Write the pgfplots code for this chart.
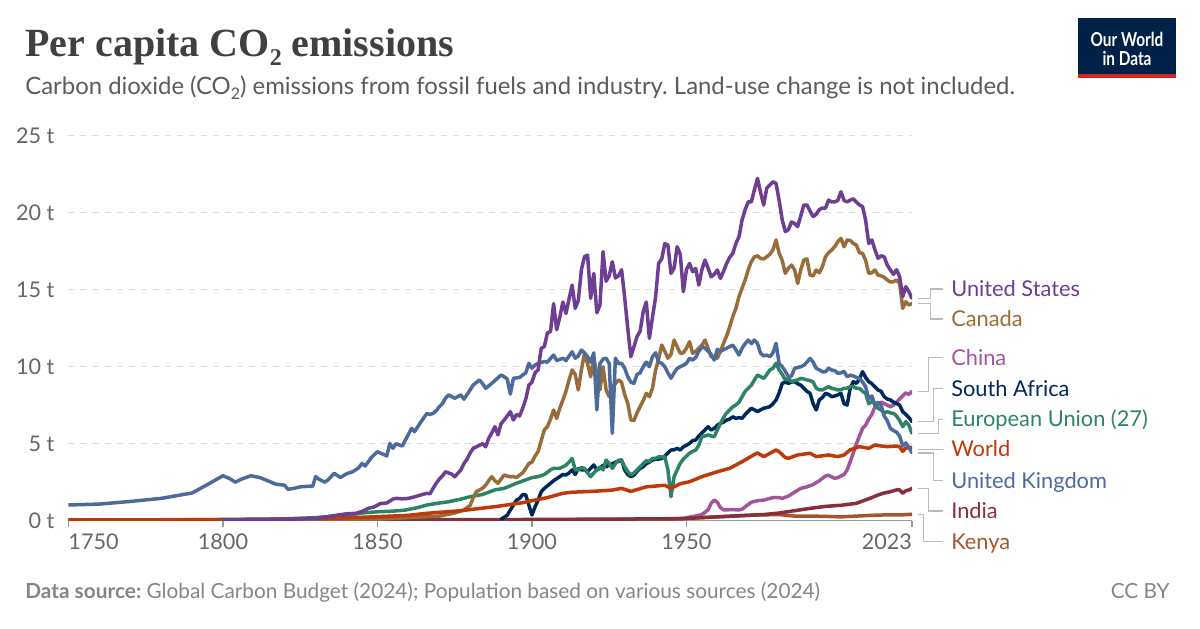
\documentclass[border=0pt]{standalone}
\usepackage{fontspec}
\setmainfont{Lato}
\newfontfamily\titlefont{Liberation Serif}
\usepackage{pgfplots}
\pgfplotsset{compat=1.18}
\definecolor{cUS}{HTML}{6D3E91}
\definecolor{cCA}{HTML}{996D39}
\definecolor{cCN}{HTML}{A2559C}
\definecolor{cZA}{HTML}{00295B}
\definecolor{cEU}{HTML}{2C8465}
\definecolor{cWO}{HTML}{BE3A0B}
\definecolor{cUK}{HTML}{4C6A9C}
\definecolor{cIN}{HTML}{883039}
\definecolor{cKE}{HTML}{A2552E}
\definecolor{cTitle}{HTML}{404040}
\definecolor{cSub}{HTML}{5B5B5B}
\definecolor{cTick}{HTML}{666666}
\definecolor{cGrid}{HTML}{DDDDDD}
\definecolor{cAxis}{HTML}{9A9A9A}
\definecolor{cFoot}{HTML}{858585}
\definecolor{cConn}{HTML}{BBBBBB}
\definecolor{cLogo}{HTML}{002147}
\definecolor{cLogoRed}{HTML}{CE261E}
\frenchspacing
\begin{document}
\begin{tikzpicture}
\useasboundingbox (0,0) rectangle (600pt,314pt);
% title and subtitle
\node[anchor=base west, inner sep=0, text=cTitle, font=\titlefont\bfseries\fontsize{20}{24}\selectfont] at (12.5pt,285.5pt) {Per capita CO\raisebox{-0.22em}{\fontsize{12}{12}\selectfont 2} emissions};
\node[anchor=base west, inner sep=0, text=cSub, font=\fontsize{11.95}{14}\selectfont] at (12.5pt,266.5pt) {Carbon dioxide (CO\raisebox{-0.2em}{\fontsize{8}{8}\selectfont 2}) emissions from fossil fuels and industry. Land-use change is not included.};
% logo
\fill[cLogo] (539pt,275pt) rectangle (588pt,305pt);
\fill[cLogoRed] (539pt,275pt) rectangle (588pt,277pt);
\node[text=white, font=\bfseries\fontsize{9.6}{10}\selectfont, inner sep=0] at (563.5pt,294.5pt) {\scalebox{0.8}[1]{Our World}};
\node[text=white, font=\bfseries\fontsize{9.6}{10}\selectfont, inner sep=0] at (563.5pt,284.8pt) {\scalebox{0.8}[1]{in Data}};
% footer
\node[anchor=base west, inner sep=0, text=cFoot, font=\fontsize{10.4}{12}\selectfont] at (12.5pt,15pt) {\textbf{Data source:} Global Carbon Budget (2024); Population based on various sources (2024)};
\node[anchor=base east, inner sep=0, text=cFoot, font=\fontsize{10.4}{12}\selectfont] at (585pt,15pt) {CC BY};
\begin{axis}[
  at={(34.25pt,53.65pt)}, anchor=south west,
  scale only axis, width=421.75pt, height=192.5pt,
  xmin=1750, xmax=2023, ymin=0, ymax=25,
  axis x line*=bottom, axis y line*=left,
  x axis line style={cAxis, line width=0.6pt},
  y axis line style={draw=none},
  xtick={1750,1800,1850,1900,1950,2023},
  xticklabels={\makebox[0pt][l]{1750},1800,1850,1900,1950,\makebox[0pt][r]{2023}},
  ytick={0,5,10,15,20,25},
  yticklabels={0 t,5 t,10 t,15 t,20 t,25 t},
  ymajorgrids,
  grid style={cGrid, dash pattern=on 3pt off 3pt, line width=0.6pt},
  tick label style={font=\fontsize{10.8}{12}\selectfont, text=cTick},
  xtick style={cAxis, line width=0.6pt},
  major tick length=3pt, tick align=outside,
  ytick style={draw=none},
  yticklabel style={xshift=-0.5pt},
  every axis plot/.append style={line width=1.75pt, line join=round, line cap=round},
]
% Kenya
\addplot[cKE] coordinates {(1900,0.02) (1920,0.05) (1950,0.15) (1960,0.25) (1970,0.35) (1975,0.38) (1980,0.40) (1985,0.30) (1990,0.30) (1995,0.28) (2000,0.25) (2005,0.30) (2010,0.35) (2015,0.38) (2020,0.38) (2023,0.42)};
% China
\addplot[cCN] coordinates {(1900,0.05) (1949,0.10) (1950,0.20) (1953,0.30) (1955,0.40) (1957,0.70) (1958,1.13) (1959,1.34) (1960,1.20) (1961,0.85) (1962,0.70) (1965,0.72) (1967,0.70) (1968,0.75) (1970,1.05) (1971,1.20) (1973,1.30) (1975,1.34) (1978,1.50) (1980,1.50) (1981,1.45) (1983,1.60) (1985,1.85) (1987,2.10) (1989,2.20) (1991,2.35) (1993,2.60) (1995,2.90) (1996,2.95) (1997,2.85) (1998,2.75) (1999,2.80) (2000,2.90) (2001,3.00) (2002,3.30) (2003,3.83) (2004,4.40) (2005,5.00) (2006,5.50) (2007,6.00) (2008,6.20) (2009,6.60) (2010,6.90) (2011,7.40) (2012,7.50) (2013,7.70) (2014,7.60) (2015,7.50) (2016,7.40) (2017,7.50) (2018,7.70) (2019,7.90) (2020,8.10) (2021,8.30) (2022,8.20) (2023,8.40)};
% India
\addplot[cIN] coordinates {(1850,0.05) (1900,0.08) (1920,0.10) (1945,0.12) (1950,0.15) (1960,0.25) (1970,0.35) (1975,0.40) (1980,0.50) (1985,0.65) (1990,0.80) (1995,0.93) (2000,1.00) (2005,1.13) (2008,1.35) (2010,1.50) (2012,1.67) (2014,1.80) (2016,1.88) (2018,2.00) (2019,2.00) (2020,1.78) (2021,1.95) (2022,2.00) (2023,2.10)};
% South Africa
\addplot[cZA] coordinates {(1890,0.10) (1892,0.35) (1893,0.70) (1895,1.34) (1896,1.45) (1897,1.70) (1898,1.67) (1899,1.00) (1900,0.37) (1901,0.90) (1902,1.34) (1903,1.88) (1904,2.10) (1906,2.43) (1907,2.60) (1909,2.86) (1910,3.00) (1911,2.97) (1912,3.10) (1913,3.30) (1914,3.00) (1915,3.40) (1916,3.30) (1917,3.30) (1918,3.20) (1919,3.40) (1920,3.62) (1921,3.30) (1922,3.40) (1923,3.60) (1924,3.50) (1925,3.62) (1926,3.70) (1927,3.80) (1928,3.85) (1929,3.94) (1930,3.30) (1931,3.00) (1932,2.86) (1933,2.95) (1934,3.20) (1935,3.40) (1936,3.50) (1937,3.70) (1938,3.80) (1939,3.94) (1940,4.00) (1941,4.00) (1942,4.05) (1943,4.20) (1944,4.40) (1945,4.59) (1946,4.60) (1947,4.70) (1948,4.59) (1949,4.80) (1950,4.90) (1951,5.02) (1952,5.20) (1953,5.24) (1954,5.50) (1955,5.70) (1956,5.89) (1957,6.10) (1958,5.89) (1959,6.00) (1960,6.20) (1961,6.32) (1962,6.40) (1963,6.54) (1964,6.60) (1965,6.75) (1966,6.64) (1967,6.70) (1968,6.64) (1969,6.90) (1970,7.10) (1971,7.30) (1972,7.20) (1973,7.08) (1974,7.20) (1975,7.30) (1976,7.35) (1977,7.41) (1978,7.60) (1979,7.84) (1980,8.30) (1981,8.92) (1982,9.00) (1983,8.92) (1984,9.00) (1985,9.03) (1986,8.90) (1987,8.80) (1988,8.60) (1989,8.40) (1990,8.27) (1991,7.60) (1992,7.19) (1993,7.84) (1994,8.00) (1995,8.27) (1996,8.20) (1997,8.05) (1998,8.10) (1999,8.17) (2000,8.27) (2001,7.60) (2002,7.51) (2003,8.60) (2004,9.03) (2005,8.92) (2006,9.20) (2007,9.68) (2008,9.30) (2009,9.03) (2010,8.90) (2011,8.70) (2012,8.49) (2013,8.40) (2014,8.05) (2015,7.90) (2016,7.84) (2017,7.70) (2018,7.62) (2019,7.50) (2020,7.08) (2021,6.90) (2022,6.70) (2023,6.43)};
% European Union (27)
\addplot[cEU] coordinates {(1750,0.03) (1780,0.05) (1800,0.08) (1820,0.12) (1830,0.20) (1840,0.35) (1845,0.50) (1850,0.58) (1855,0.62) (1859,0.69) (1863,0.85) (1866,1.02) (1870,1.15) (1873,1.23) (1877,1.40) (1880,1.56) (1884,1.70) (1888,2.00) (1891,2.10) (1895,2.43) (1898,2.65) (1900,2.80) (1902,2.86) (1904,3.00) (1906,3.30) (1907,3.40) (1909,3.40) (1911,3.60) (1912,3.80) (1913,4.05) (1914,3.30) (1915,3.30) (1916,3.45) (1917,3.40) (1918,3.10) (1919,2.86) (1920,3.10) (1921,3.30) (1922,3.50) (1923,3.30) (1924,3.94) (1925,3.70) (1926,3.40) (1927,3.70) (1928,3.94) (1929,3.90) (1930,3.51) (1931,3.20) (1932,2.97) (1933,3.10) (1934,3.30) (1935,3.50) (1936,3.70) (1937,3.90) (1938,3.84) (1939,4.05) (1940,4.05) (1941,4.15) (1942,4.15) (1943,4.15) (1944,3.30) (1945,1.56) (1946,2.86) (1947,3.30) (1948,3.73) (1949,4.00) (1950,4.20) (1951,4.38) (1952,4.50) (1953,4.59) (1954,4.90) (1955,5.46) (1956,5.50) (1957,5.57) (1958,5.50) (1959,5.46) (1960,5.90) (1961,6.32) (1962,6.70) (1963,7.00) (1964,7.19) (1965,7.40) (1966,7.51) (1967,7.70) (1968,8.05) (1969,8.40) (1970,8.60) (1971,8.80) (1972,9.14) (1973,9.46) (1974,9.35) (1975,9.24) (1976,9.50) (1977,9.79) (1978,9.90) (1979,10.22) (1980,9.79) (1981,9.50) (1982,9.14) (1983,9.24) (1984,9.03) (1985,9.10) (1986,9.14) (1987,9.24) (1988,9.20) (1989,9.14) (1990,9.10) (1991,9.00) (1992,8.60) (1993,8.50) (1994,8.49) (1995,8.60) (1996,8.70) (1997,8.60) (1998,8.55) (1999,8.49) (2000,8.50) (2001,8.60) (2002,8.60) (2003,8.70) (2004,8.70) (2005,8.60) (2006,8.60) (2007,8.40) (2008,8.27) (2009,7.60) (2010,7.73) (2011,7.60) (2012,7.30) (2013,7.19) (2014,7.00) (2015,7.08) (2016,7.00) (2017,6.97) (2018,6.80) (2019,6.50) (2020,6.10) (2021,6.43) (2022,6.20) (2023,5.67)};
% Canada
\addplot[cCA] coordinates {(1800,0.05) (1850,0.10) (1870,0.30) (1875,0.50) (1878,0.70) (1880,1.00) (1881,1.50) (1882,1.88) (1883,2.00) (1884,2.10) (1885,2.30) (1886,2.60) (1887,2.86) (1888,2.60) (1889,2.43) (1890,2.70) (1891,2.97) (1892,2.90) (1893,2.85) (1894,2.86) (1895,2.80) (1896,2.97) (1897,3.10) (1898,3.40) (1899,3.72) (1900,3.80) (1901,4.20) (1902,4.50) (1903,5.20) (1904,5.90) (1905,6.10) (1906,6.60) (1907,7.19) (1908,6.64) (1909,7.30) (1910,7.84) (1911,8.40) (1912,9.14) (1913,9.79) (1914,9.50) (1915,8.49) (1916,9.80) (1917,10.87) (1918,10.20) (1919,9.35) (1920,10.55) (1921,9.60) (1922,8.49) (1923,10.00) (1924,8.50) (1925,8.05) (1926,8.70) (1927,8.90) (1928,9.14) (1929,9.00) (1930,8.20) (1931,7.62) (1932,6.54) (1933,6.50) (1934,7.00) (1935,7.41) (1936,7.80) (1937,8.27) (1938,8.05) (1939,8.60) (1940,9.79) (1941,10.50) (1942,11.41) (1943,11.00) (1944,10.55) (1945,10.80) (1946,11.73) (1947,11.30) (1948,10.87) (1949,10.90) (1950,11.20) (1951,11.62) (1952,10.87) (1953,11.00) (1954,11.19) (1955,11.40) (1956,11.73) (1957,11.20) (1958,10.65) (1959,10.60) (1960,10.55) (1961,11.00) (1962,11.52) (1963,12.00) (1964,12.60) (1965,13.25) (1966,13.80) (1967,14.55) (1968,15.10) (1969,15.63) (1970,16.30) (1971,16.82) (1972,17.14) (1973,17.20) (1974,17.03) (1975,17.00) (1976,17.14) (1977,17.30) (1978,17.58) (1979,18.23) (1980,17.36) (1981,16.90) (1982,16.06) (1983,16.40) (1984,16.60) (1985,16.30) (1986,15.41) (1987,16.30) (1988,16.93) (1989,17.00) (1990,15.95) (1991,15.90) (1992,16.28) (1993,16.10) (1994,16.50) (1995,17.14) (1996,17.40) (1997,17.58) (1998,17.80) (1999,18.12) (2000,18.34) (2001,17.79) (2002,18.23) (2003,18.20) (2004,18.00) (2005,17.90) (2006,17.40) (2007,17.36) (2008,16.90) (2009,16.06) (2010,16.10) (2011,16.28) (2012,15.95) (2013,15.90) (2014,15.80) (2015,15.63) (2016,15.50) (2017,15.52) (2018,15.63) (2019,15.40) (2020,13.79) (2021,14.22) (2022,14.00) (2023,14.11)};
% World
\addplot[cWO] coordinates {(1750,0.05) (1800,0.07) (1820,0.10) (1835,0.15) (1850,0.26) (1860,0.35) (1866,0.48) (1877,0.65) (1888,0.91) (1897,1.17) (1900,1.30) (1905,1.50) (1910,1.78) (1913,1.85) (1920,1.91) (1926,1.99) (1929,2.10) (1932,1.90) (1937,2.20) (1943,2.30) (1945,2.10) (1948,2.40) (1951,2.53) (1955,2.86) (1960,3.18) (1964,3.40) (1968,3.83) (1972,4.30) (1973,4.40) (1975,4.16) (1978,4.48) (1979,4.59) (1980,4.48) (1982,4.10) (1983,4.05) (1986,4.27) (1990,4.38) (1992,4.16) (1996,4.27) (1999,4.16) (2001,4.27) (2003,4.60) (2006,4.81) (2009,4.70) (2011,4.92) (2013,4.85) (2015,4.81) (2018,4.85) (2019,4.80) (2020,4.50) (2021,4.72) (2022,4.73) (2023,4.76)};
% United Kingdom
\addplot[cUK] coordinates {(1750,1.02) (1760,1.08) (1770,1.25) (1780,1.45) (1790,1.80) (1795,2.35) (1800,2.92) (1802,2.75) (1804,2.50) (1806,2.70) (1809,2.92) (1812,2.80) (1815,2.55) (1817,2.38) (1820,2.30) (1821,2.04) (1823,2.10) (1825,2.20) (1828,2.24) (1829,2.22) (1830,2.86) (1831,2.70) (1833,2.50) (1834,2.65) (1836,3.08) (1838,2.80) (1840,3.05) (1842,3.18) (1844,3.45) (1845,3.72) (1846,3.55) (1848,4.10) (1850,4.48) (1852,4.30) (1853,4.20) (1854,5.02) (1855,4.70) (1856,5.00) (1857,4.92) (1858,4.85) (1860,5.60) (1861,6.00) (1862,5.78) (1864,6.40) (1866,6.97) (1867,6.90) (1868,6.97) (1869,7.14) (1870,7.40) (1871,7.60) (1872,7.95) (1873,8.17) (1875,7.95) (1877,8.17) (1878,7.89) (1879,8.20) (1880,8.50) (1881,8.81) (1883,9.14) (1884,8.90) (1885,8.60) (1886,8.75) (1888,9.10) (1890,9.46) (1891,9.35) (1892,9.20) (1893,8.22) (1894,9.25) (1896,9.30) (1897,9.46) (1898,9.60) (1899,10.22) (1900,9.90) (1901,10.10) (1902,10.22) (1904,10.33) (1905,10.30) (1907,10.76) (1908,10.40) (1910,10.55) (1911,10.40) (1913,10.97) (1914,10.55) (1915,10.70) (1916,11.08) (1917,10.90) (1918,10.65) (1919,10.30) (1920,10.90) (1921,7.19) (1922,10.20) (1923,10.50) (1924,10.55) (1925,10.20) (1926,5.67) (1927,10.55) (1928,10.20) (1929,10.22) (1930,9.90) (1931,9.35) (1932,9.00) (1933,8.92) (1934,9.50) (1935,9.60) (1936,10.00) (1937,10.30) (1938,10.00) (1939,10.65) (1940,10.90) (1941,10.30) (1942,10.22) (1943,10.00) (1944,9.60) (1945,9.25) (1946,9.60) (1947,9.89) (1948,10.00) (1949,10.10) (1950,10.22) (1951,10.55) (1952,10.43) (1953,10.60) (1954,11.00) (1955,11.30) (1956,11.20) (1957,11.00) (1958,10.80) (1959,10.43) (1960,11.13) (1961,11.00) (1962,11.10) (1963,11.20) (1964,11.30) (1965,11.40) (1966,11.10) (1967,10.76) (1968,11.20) (1969,11.50) (1970,11.73) (1971,11.50) (1972,11.73) (1973,11.50) (1974,10.87) (1975,10.70) (1976,10.75) (1977,10.65) (1978,10.90) (1979,11.52) (1980,10.20) (1981,10.00) (1982,9.70) (1983,9.35) (1984,9.40) (1985,9.89) (1986,9.95) (1987,10.00) (1988,10.10) (1989,10.30) (1990,10.54) (1991,10.30) (1992,9.89) (1993,9.80) (1994,9.67) (1995,9.67) (1996,9.90) (1997,9.78) (1998,9.75) (1999,9.57) (2000,9.60) (2001,9.70) (2002,9.35) (2003,9.45) (2004,9.40) (2005,9.30) (2006,9.24) (2007,9.00) (2008,8.70) (2009,7.90) (2010,8.10) (2011,7.50) (2012,7.70) (2013,7.50) (2014,6.80) (2015,6.50) (2016,6.00) (2017,5.85) (2018,5.75) (2019,5.50) (2020,4.85) (2021,5.05) (2022,4.75) (2023,4.40)};
% United States
\addplot[cUS] coordinates {(1800,0.05) (1820,0.08) (1830,0.15) (1835,0.30) (1840,0.45) (1843,0.48) (1845,0.60) (1847,0.80) (1849,0.90) (1851,1.12) (1853,1.15) (1855,1.40) (1856,1.45) (1858,1.42) (1860,1.45) (1862,1.55) (1864,1.67) (1866,1.78) (1867,1.75) (1868,2.10) (1869,2.43) (1870,2.70) (1871,2.90) (1872,3.18) (1873,3.10) (1874,3.03) (1875,2.85) (1876,3.08) (1877,3.30) (1878,3.72) (1879,4.00) (1880,4.40) (1881,4.70) (1882,4.80) (1883,4.90) (1884,5.00) (1885,4.80) (1886,5.35) (1887,5.70) (1888,6.10) (1889,5.57) (1890,6.30) (1891,6.54) (1892,6.80) (1893,7.08) (1894,6.54) (1895,6.90) (1896,6.80) (1897,7.30) (1898,7.90) (1899,8.80) (1900,9.00) (1901,9.60) (1902,9.80) (1903,11.20) (1904,11.30) (1905,12.20) (1906,12.28) (1907,14.10) (1908,12.40) (1909,13.20) (1910,14.20) (1911,13.46) (1912,14.40) (1913,15.30) (1914,13.79) (1915,14.30) (1916,16.30) (1917,17.14) (1918,17.25) (1919,14.44) (1920,16.06) (1921,13.50) (1922,14.00) (1923,17.47) (1924,15.55) (1925,15.90) (1926,16.82) (1927,15.76) (1928,15.90) (1929,16.30) (1930,14.50) (1931,12.50) (1932,10.65) (1933,11.30) (1934,11.95) (1935,12.30) (1936,13.57) (1937,14.20) (1938,11.84) (1939,13.20) (1940,14.50) (1941,16.71) (1942,17.00) (1943,18.00) (1944,17.90) (1945,16.06) (1946,16.40) (1947,17.79) (1948,17.30) (1949,14.87) (1950,16.30) (1951,16.71) (1952,16.17) (1953,16.38) (1954,15.30) (1955,16.30) (1956,16.93) (1957,16.40) (1958,15.84) (1959,16.00) (1960,16.28) (1961,15.73) (1962,16.20) (1963,16.70) (1964,17.10) (1965,17.36) (1966,18.00) (1967,18.44) (1968,19.53) (1969,20.20) (1970,20.71) (1971,20.70) (1972,21.50) (1973,22.23) (1974,21.30) (1975,20.50) (1976,21.60) (1977,21.80) (1978,22.01) (1979,21.90) (1980,20.80) (1981,19.53) (1982,18.77) (1983,18.90) (1984,19.40) (1985,19.30) (1986,19.10) (1987,19.80) (1988,20.50) (1989,20.50) (1990,20.10) (1991,19.75) (1992,19.90) (1993,20.20) (1994,20.30) (1995,20.30) (1996,20.82) (1997,20.70) (1998,20.70) (1999,20.80) (2000,21.36) (2001,20.80) (2002,20.70) (2003,20.82) (2004,20.90) (2005,20.70) (2006,20.50) (2007,20.40) (2008,19.50) (2009,18.00) (2010,18.23) (2011,17.60) (2012,17.04) (2013,17.20) (2014,17.14) (2015,16.60) (2016,16.28) (2017,16.00) (2018,16.30) (2019,15.84) (2020,14.55) (2021,15.20) (2022,14.87) (2023,14.44)};
\end{axis}
% connectors and labels, in image pixel coordinates
\begin{scope}[x=0.5pt, y=-0.5pt, yshift=314pt, cConn, line width=0.6pt]
\draw (918,298.3) -- (930.7,298.3) -- (930.7,289) -- (943,289);
\draw (918,303.4) -- (930.7,303.4) -- (930.7,319) -- (943,319);
\draw (918,391.3) -- (928.3,391.3) -- (928.3,357.7) -- (943,357.7);
\draw (918,421.7) -- (933.3,421.7) -- (933.3,388.7) -- (943,388.7);
\draw (918,433.4) -- (938.3,433.4) -- (938.3,419.3) -- (943,419.3);
\draw (918,449.3) -- (943,449.3);
\draw (918,452.9) -- (933.3,452.9) -- (933.3,480.7) -- (943,480.7);
\draw (918,488.4) -- (928.3,488.4) -- (928.3,511) -- (943,511);
\draw (918,514.2) -- (923.3,514.2) -- (923.3,541.7) -- (943,541.7);
\tikzset{lab/.style={anchor=base west, inner sep=0, font=\fontsize{10.9}{12}\selectfont}}
\node[lab, text=cUS] at (950.7,296.5) {United States};
\node[lab, text=cCA] at (950.7,326.5) {Canada};
\node[lab, text=cCN] at (950.7,365.2) {China};
\node[lab, text=cZA] at (950.7,396.2) {South Africa};
\node[lab, text=cEU] at (950.7,426.8) {European Union (27)};
\node[lab, text=cWO] at (950.7,456.8) {World};
\node[lab, text=cUK] at (950.7,488.2) {United Kingdom};
\node[lab, text=cIN] at (950.7,518.5) {India};
\node[lab, text=cKE] at (950.7,549.2) {Kenya};
\end{scope}
\end{tikzpicture}
\end{document}
